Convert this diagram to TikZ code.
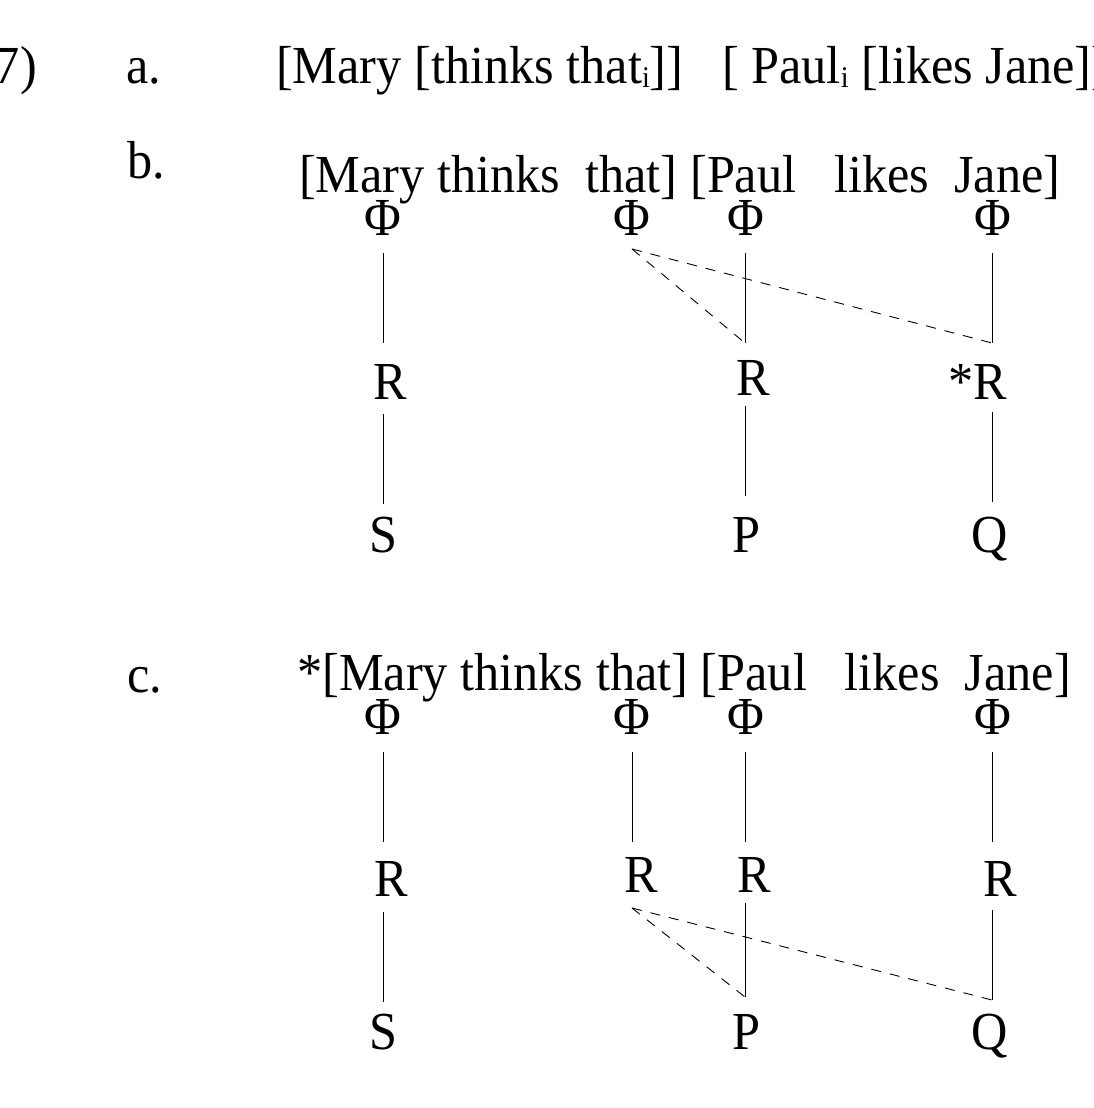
\documentclass[tikz,border=0pt]{standalone}
\usepackage{fontspec}
\setmainfont[FakeStretch=0.94]{Liberation Serif}
\newcommand{\subi}{\raisebox{-3pt}{\fontsize{30}{30}\selectfont i}}
\begin{document}
\begin{tikzpicture}[x=1pt,y=1pt,
  txt/.style={inner sep=0pt, font=\fontsize{53.5}{60}\selectfont},
  solidline/.style={line width=0.9pt},
  dashline/.style={line width=0.9pt, dash pattern=on 10pt off 9pt}]
\useasboundingbox (0,0) rectangle (1094,-1108);
% row a
\node[txt,anchor=base east] (n7) at (37,-84) {7)};
\node[txt,anchor=base west] (la) at (126,-84) {a.};
\node[txt,anchor=base west] (a1) at (276,-84) {[Mary [thinks that\subi]]};
\node[txt,anchor=base west] (a2) at (722,-84) {[ Paul\subi\ [likes Jane]]};
% row b
\node[txt,anchor=base west] (lb) at (127,-178) {b.};
\node[txt,anchor=base west] (tb) at (299,-192) {[Mary thinks~~that] [Paul~~~likes~~Jane]};
\node[txt,anchor=base] (pb1) at (383,-235) {Φ};
\node[txt,anchor=base] (pb2) at (632,-235) {Φ};
\node[txt,anchor=base] (pb3) at (746,-235) {Φ};
\node[txt,anchor=base] (pb4) at (993,-235) {Φ};
\node[txt,anchor=base] (rb1) at (390,-399) {R};
\node[txt,anchor=base] (rb2) at (753,-395) {R};
\node[txt,anchor=base west] (rb3) at (948,-399) {*R};
\node[txt,anchor=base] (sb) at (383,-552) {S};
\node[txt,anchor=base] (pb) at (746,-552) {P};
\node[txt,anchor=base] (qb) at (990,-552) {Q};
\coordinate (b1a) at (383,-253); \coordinate (b1b) at (383,-343);
\coordinate (b3a) at (745,-253); \coordinate (b3b) at (745,-343);
\coordinate (b4a) at (992,-253); \coordinate (b4b) at (992,-343);
\coordinate (b2a) at (632,-249);
\coordinate (b1c) at (383,-414); \coordinate (b1d) at (383,-504);
\coordinate (b3c) at (745,-406); \coordinate (b3d) at (745,-496);
\coordinate (b4c) at (992,-412); \coordinate (b4d) at (992,-502);
\draw[solidline] (b1a) -- (b1b);
\draw[solidline] (b3a) -- (b3b);
\draw[solidline] (b4a) -- (b4b);
\draw[solidline] (b1c) -- (b1d);
\draw[solidline] (b3c) -- (b3d);
\draw[solidline] (b4c) -- (b4d);
\draw[dashline] (b2a) -- (b3b);
\draw[dashline] (b2a) -- (b4b);
% row c
\node[txt,anchor=base west] (lc) at (127,-692) {c.};
\node[txt,anchor=base west] (tc) at (297,-690) {*[Mary thinks that] [Paul~~~likes~~Jane]};
\node[txt,anchor=base] (pc1) at (383,-734) {Φ};
\node[txt,anchor=base] (pc2) at (632,-734) {Φ};
\node[txt,anchor=base] (pc3) at (746,-734) {Φ};
\node[txt,anchor=base] (pc4) at (993,-734) {Φ};
\node[txt,anchor=base] (rc1) at (391,-896) {R};
\node[txt,anchor=base] (rc2) at (641,-892) {R};
\node[txt,anchor=base] (rc3) at (754,-892) {R};
\node[txt,anchor=base] (rc4) at (1000,-896) {R};
\node[txt,anchor=base] (sc) at (383,-1049) {S};
\node[txt,anchor=base] (pc) at (746,-1049) {P};
\node[txt,anchor=base] (qc) at (990,-1049) {Q};
\coordinate (c1a) at (383,-752); \coordinate (c1b) at (383,-842);
\coordinate (c2a) at (632,-752); \coordinate (c2b) at (632,-842);
\coordinate (c3a) at (745,-752); \coordinate (c3b) at (745,-842);
\coordinate (c4a) at (992,-752); \coordinate (c4b) at (992,-842);
\coordinate (c1c) at (383,-912); \coordinate (c1d) at (383,-1002);
\coordinate (c3c) at (745,-903); \coordinate (c3d) at (745,-997);
\coordinate (c4c) at (992,-910); \coordinate (c4d) at (992,-1000);
\coordinate (c2c) at (632,-908);
\draw[solidline] (c1a) -- (c1b);
\draw[solidline] (c2a) -- (c2b);
\draw[solidline] (c3a) -- (c3b);
\draw[solidline] (c4a) -- (c4b);
\draw[solidline] (c1c) -- (c1d);
\draw[solidline] (c3c) -- (c3d);
\draw[solidline] (c4c) -- (c4d);
\draw[dashline] (c2c) -- (c3d);
\draw[dashline] (c2c) -- (c4d);
\end{tikzpicture}
\end{document}
